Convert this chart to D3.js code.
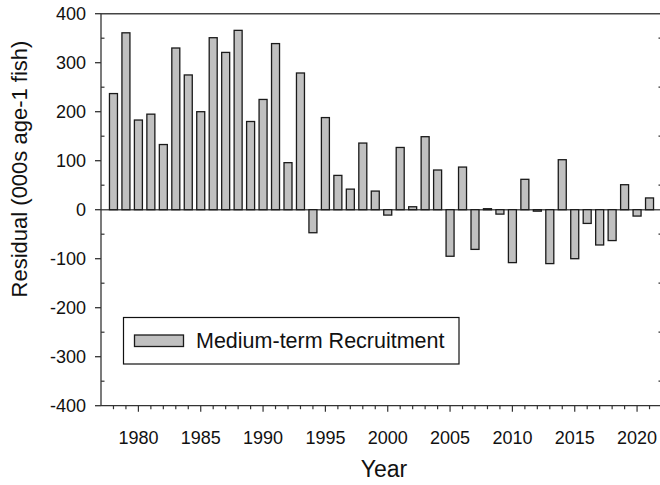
<!DOCTYPE html>
<html>
<head>
<meta charset="utf-8">
<script src="https://cdn.jsdelivr.net/npm/d3@7"></script>
<style>
  body { margin: 0; background: #fff; }
  svg { display: block; font-family: Arial, "Liberation Sans", sans-serif; }
</style>
</head>
<body>
<svg id="chart" width="660" height="485"></svg>
<script>
let years = d3.range(1978, 2022)
let residuals = [
    237, 361, 183, 195, 133, 330, 275, 200, 351, 321,
    366, 180, 225, 339, 96, 279, -47, 188, 70, 42,
    136, 38, -11, 127, 6, 149, 81, -95, 87, -81,
    2, -9, -108, 62, -3, -110, 102, -100, -28, -72,
    -63, 51, -13, 24
]
let y_ticks = [-400, -300, -200, -100, 0, 100, 200, 300, 400]
let x_ticks = [1980, 1985, 1990, 1995, 2000, 2005, 2010, 2015, 2020]
let series_name = 'Medium-term Recruitment'

let pad = { l: 101, r: 662, t: 13.7, b: 405.7 }

let svg = d3.select('#chart')

let x = d3.scaleLinear().domain([1977, 2022]).range([pad.l, pad.r])
let y = d3.scaleLinear().domain([-400, 400]).range([pad.b, pad.t])

let bar_w = 8
let axis_col = '#333'

// frame top line
svg.append('line')
    .attr('x1', pad.l).attr('x2', pad.r)
    .attr('y1', y(400)).attr('y2', y(400))
    .attr('stroke', '#444').attr('stroke-width', 1.5)

// zero line
svg.append('line')
    .attr('x1', pad.l).attr('x2', pad.r)
    .attr('y1', y(0)).attr('y2', y(0))
    .attr('stroke', '#555').attr('stroke-width', 1.5)

// bars
svg.selectAll('rect.bar').data(years).enter()
    .append('rect')
    .classed('bar', true)
    .attr('x', d => x(d) - bar_w / 2)
    .attr('width', bar_w)
    .attr('y', (d, i) => y(Math.max(0, residuals[i])))
    .attr('height', (d, i) => Math.max(1, Math.abs(y(residuals[i]) - y(0))))
    .attr('fill', '#c0c0c0')
    .attr('stroke', '#1a1a1a')
    .attr('stroke-width', 1.3)

// left axis: labelled ticks outward, minor ticks inward
let y_minor = d3.range(-350, 400, 100)
let left = svg.append('g')
left.append('line')
    .attr('x1', pad.l).attr('x2', pad.l)
    .attr('y1', pad.t).attr('y2', pad.b)
    .attr('stroke', axis_col).attr('stroke-width', 1.3)
left.selectAll('line.major').data(y_ticks).enter()
    .append('line')
    .attr('x1', pad.l - 6).attr('x2', pad.l)
    .attr('y1', d => y(d)).attr('y2', d => y(d))
    .attr('stroke', axis_col).attr('stroke-width', 1.3)
left.selectAll('line.minor').data(y_minor).enter()
    .append('line')
    .attr('x1', pad.l).attr('x2', pad.l + 3.5)
    .attr('y1', d => y(d)).attr('y2', d => y(d))
    .attr('stroke', axis_col).attr('stroke-width', 1.2)
left.selectAll('text').data(y_ticks).enter()
    .append('text')
    .attr('x', pad.l - 15)
    .attr('y', d => y(d))
    .attr('dy', '0.36em')
    .attr('text-anchor', 'end')
    .attr('font-size', 18)
    .attr('fill', '#111')
    .text(d => d)

// right axis (sits just off the canvas, its inward ticks show)
svg.append('g').selectAll('line').data(y_minor).enter()
    .append('line')
    .attr('x1', pad.r - 3.5).attr('x2', pad.r)
    .attr('y1', d => y(d)).attr('y2', d => y(d))
    .attr('stroke', axis_col).attr('stroke-width', 1.2)

// bottom axis
let bottom = svg.append('g')
bottom.append('line')
    .attr('x1', pad.l).attr('x2', pad.r)
    .attr('y1', pad.b).attr('y2', pad.b)
    .attr('stroke', axis_col).attr('stroke-width', 1.3)
bottom.selectAll('line.tick').data(d3.range(1978, 2022)).enter()
    .append('line')
    .attr('x1', d => x(d)).attr('x2', d => x(d))
    .attr('y1', pad.b)
    .attr('y2', d => pad.b + (d % 5 === 0 ? 6 : 3.5))
    .attr('stroke', axis_col).attr('stroke-width', 1.2)
bottom.selectAll('text').data(x_ticks).enter()
    .append('text')
    .attr('x', d => x(d))
    .attr('y', 444)
    .attr('text-anchor', 'middle')
    .attr('font-size', 18)
    .attr('fill', '#111')
    .text(d => d)

// axis titles
svg.append('text')
    .attr('x', 384)
    .attr('y', 477)
    .attr('text-anchor', 'middle')
    .attr('font-size', 23)
    .attr('fill', '#111')
    .text('Year')

svg.append('text')
    .attr('transform', 'translate(27, 169) rotate(-90)')
    .attr('text-anchor', 'middle')
    .attr('font-size', 22)
    .attr('fill', '#111')
    .text('Residual (000s age-1 fish)')

// legend
let legend = svg.append('g')
legend.append('rect')
    .attr('x', 123.5).attr('y', 317.5)
    .attr('width', 335.5).attr('height', 46.5)
    .attr('fill', '#fff')
    .attr('stroke', '#111').attr('stroke-width', 1.2)
legend.append('rect')
    .attr('x', 134.5).attr('y', 335)
    .attr('width', 49).attr('height', 11.5)
    .attr('fill', '#c0c0c0')
    .attr('stroke', '#1a1a1a').attr('stroke-width', 1.3)
legend.append('text')
    .attr('x', 196)
    .attr('y', 348)
    .attr('font-size', 21.5)
    .attr('fill', '#111')
    .text(series_name)
</script>
</body>
</html>
